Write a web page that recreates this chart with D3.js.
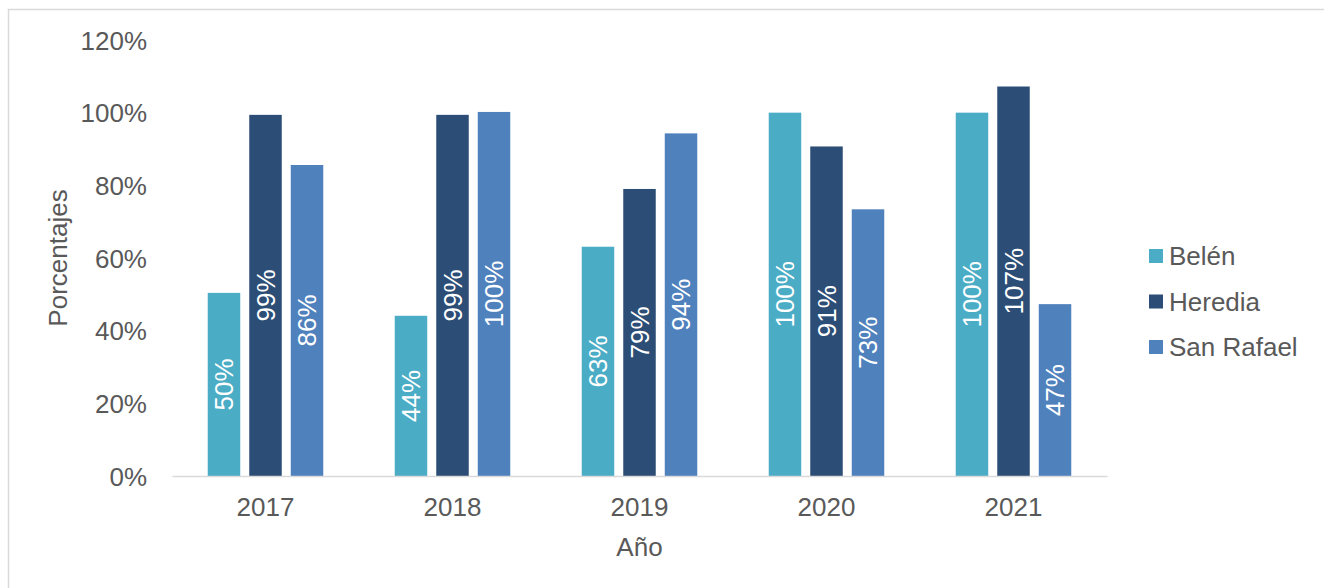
<!DOCTYPE html>
<html>
<head>
<meta charset="utf-8">
<script src="https://cdn.jsdelivr.net/npm/d3@7"></script>
<style>
  body { margin: 0; background: #fff; }
  text { font-family: "Liberation Sans", Arial, sans-serif; }
</style>
</head>
<body>
<svg id="chart"></svg>
<script>
// data
var years = ["2017", "2018", "2019", "2020", "2021"];
var series = ["Belén", "Heredia", "San Rafael"];
var belen = [0.504, 0.441, 0.631, 1.00, 1.00];
var heredia = [0.994, 0.994, 0.790, 0.907, 1.072];
var sanRafael = [0.856, 1.002, 0.943, 0.734, 0.473];
var yTicks = [0, 0.2, 0.4, 0.6, 0.8, 1.0, 1.2];

var colors = {
	"Belén" : "#4bacc6",
	"Heredia" : "#2c4d75",
	"San Rafael" : "#4f81bd"
};
var textColor = "#595959";

var values = { "Belén": belen, "Heredia": heredia, "San Rafael": sanRafael };

var W = 1324, H = 588;
var svg = d3.select("#chart")
	.attr("width", W)
	.attr("height", H);

// outer frame (cut off at right / bottom like the source)
svg.append("rect")
	.attr("x", 8.5)
	.attr("y", 9.5)
	.attr("width", W + 20)
	.attr("height", H + 20)
	.attr("fill", "none")
	.attr("stroke", "#d9d9d9")
	.attr("stroke-width", 1.5);

var plotLeft = 172, plotRight = 1107, plotTop = 40, plotBottom = 476;

var x0 = d3.scaleBand()
	.domain(years)
	.range([plotLeft, plotRight])
	.padding(0);

var x1 = d3.scaleBand()
	.domain(series)
	.range([0, x0.bandwidth()])
	.paddingInner(0.217)
	.paddingOuter(0.861);

var y = d3.scaleLinear()
	.domain([0, 1.2])
	.range([plotBottom, plotTop]);

var pct = d3.format(".0%");

// y tick labels
var yAxis = d3.axisLeft(y)
	.tickValues(yTicks)
	.tickFormat(pct)
	.tickSize(0)
	.tickPadding(25);
var gy = svg.append("g")
	.attr("transform", "translate(" + plotLeft + ",0)")
	.call(yAxis);
gy.select(".domain").remove();
gy.selectAll("text")
	.attr("font-size", "26px")
	.attr("font-family", "Liberation Sans, Arial, sans-serif")
	.attr("fill", textColor)
	.attr("dy", null)
	.attr("dominant-baseline", "central");

// bars
var rows = [];
years.forEach(function(yr, i) {
	series.forEach(function(s) {
		rows.push({ year: yr, name: s, value: values[s][i] });
	});
});

svg.append("g").selectAll("rect")
	.data(rows)
	.enter().append("rect")
	.attr("x", function(d) { return x0(d.year) + x1(d.name); })
	.attr("y", function(d) { return y(d.value); })
	.attr("width", x1.bandwidth())
	.attr("height", function(d) { return plotBottom - y(d.value); })
	.attr("fill", function(d) { return colors[d.name]; });

// data labels (rotated, white, centred in bar)
svg.append("g").selectAll("text")
	.data(rows)
	.enter().append("text")
	.attr("transform", function(d) {
		var cx = x0(d.year) + x1(d.name) + x1.bandwidth() / 2;
		var cy = (y(d.value) + plotBottom) / 2;
		return "translate(" + cx + "," + cy + ") rotate(-90)";
	})
	.attr("text-anchor", "middle")
	.attr("dominant-baseline", "central")
	.attr("font-size", "26px")
	.attr("fill", "#ffffff")
	.text(function(d) { return Math.round(d.value * 100) + "%"; });

// x axis
var xAxis = d3.axisBottom(x0)
	.tickSize(0)
	.tickPadding(0);
var gx = svg.append("g")
	.attr("transform", "translate(0," + plotBottom + ")")
	.call(xAxis);
gx.select(".domain")
	.attr("stroke", "#d9d9d9")
	.attr("stroke-width", 1.5);
gx.selectAll("text")
	.attr("font-size", "26px")
	.attr("font-family", "Liberation Sans, Arial, sans-serif")
	.attr("fill", textColor)
	.attr("y", 31)
	.attr("dy", null)
	.attr("dominant-baseline", "central");

// axis titles
svg.append("text")
	.attr("transform", "translate(58,258) rotate(-90)")
	.attr("text-anchor", "middle")
	.attr("dominant-baseline", "central")
	.attr("font-size", "26px")
	.attr("fill", textColor)
	.text("Porcentajes");

svg.append("text")
	.attr("x", (plotLeft + plotRight) / 2)
	.attr("y", 547)
	.attr("text-anchor", "middle")
	.attr("dominant-baseline", "central")
	.attr("font-size", "26px")
	.attr("fill", textColor)
	.text("Año");

// legend
var legend = svg.append("g").selectAll("g")
	.data(series)
	.enter().append("g")
	.attr("transform", function(d, i) { return "translate(1149," + (256 + i * 45.5) + ")"; });
legend.append("rect")
	.attr("x", 0)
	.attr("y", -7)
	.attr("width", 14)
	.attr("height", 14)
	.attr("fill", function(d) { return colors[d]; });
legend.append("text")
	.attr("x", 20)
	.attr("y", 0)
	.attr("dominant-baseline", "central")
	.attr("font-size", "26px")
	.attr("fill", textColor)
	.text(function(d) { return d; });
</script>
</body>
</html>
